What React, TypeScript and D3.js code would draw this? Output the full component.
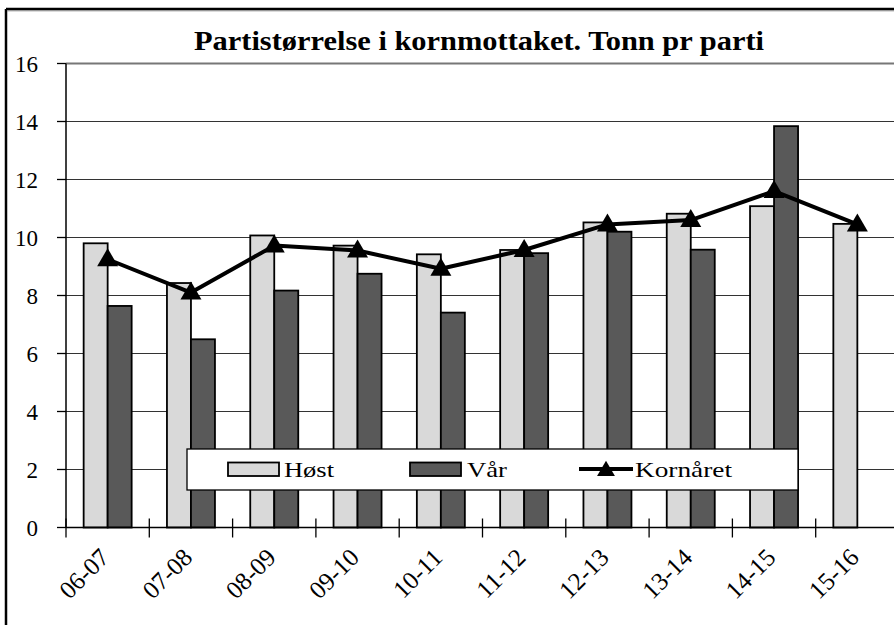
import React from "react";
import * as d3 from "d3";

const categories = ["06-07", "07-08", "08-09", "09-10", "10-11", "11-12", "12-13", "13-14", "14-15", "15-16"];
const host = [9.8, 8.43, 10.07, 9.72, 9.42, 9.57, 10.52, 10.82, 11.08, 10.47];
const vaar: (number | null)[] = [7.64, 6.49, 8.17, 8.75, 7.41, 9.46, 10.2, 9.58, 13.84, null];
const kornaret = [9.25, 8.1, 9.72, 9.55, 8.92, 9.57, 10.45, 10.6, 11.6, 10.45];
const yTicks = [0, 2, 4, 6, 8, 10, 12, 14, 16];
const title = "Partistørrelse i kornmottaket. Tonn pr parti";
const legendLabels = ["Høst", "Vår", "Kornåret"];

const W = 894;
const H = 625;
const LIGHT = "#d9d9d9";
const DARK = "#595959";
const SERIF = "Liberation Serif";

export default function App() {
  const x = d3.scaleBand<string>().domain(categories).range([66, 66 + 833]).paddingInner(0).paddingOuter(0);
  const y = d3.scaleLinear().domain([0, 16]).range([527.5, 63.5]);
  const bw = 24;
  const center = (c: string) => (x(c) as number) + x.bandwidth() / 2;
  const line = d3
    .line<number>()
    .x((_, i) => center(categories[i]))
    .y((d) => y(d));
  const tri = (cx: number, cy: number, s = 1) =>
    `M${cx},${cy - 11 * s} L${cx + 10.5 * s},${cy + 7 * s} L${cx - 10.5 * s},${cy + 7 * s} Z`;

  return (
    <svg width={W} height={H} style={{ position: "absolute", left: 0, top: 0 }}>
      <style>{`text { font-family: "Liberation Serif", "Times New Roman", serif; }`}</style>
      <rect x={0} y={0} width={W} height={H} fill="#fff" />
      {/* frame */}
      <line x1={6} y1={9} x2={W} y2={9} stroke="#000" strokeWidth={2.5} />
      <line x1={6} y1={9} x2={6} y2={H} stroke="#000" strokeWidth={2.5} />
      <line x1={7} y1={10.8} x2={W} y2={10.8} stroke="#888" strokeWidth={1} />
      {/* title */}
      <text x={479} y={50} textAnchor="middle" fontSize={27} fontWeight="bold" fontFamily={SERIF} textLength={570} lengthAdjust="spacingAndGlyphs">
        {title}
      </text>
      {/* gridlines */}
      {yTicks.filter((t) => t > 0).map((t) => (
        <line key={t} x1={66} x2={W} y1={y(t)} y2={y(t)} stroke={t === 16 ? "#777" : "#333"} strokeWidth={t === 16 ? 2 : 1.2} />
      ))}
      {/* y axis */}
      <line x1={66} x2={66} y1={y(16)} y2={y(0)} stroke="#000" strokeWidth={1.5} />
      {yTicks.map((t) => (
        <g key={t}>
          <line x1={57} x2={66} y1={y(t)} y2={y(t)} stroke="#000" strokeWidth={1.3} />
          <text x={38} y={y(t) + 8} textAnchor="end" fontSize={23} fontFamily={SERIF}>
            {t}
          </text>
        </g>
      ))}
      {/* bars */}
      {categories.map((c, i) => (
        <g key={c}>
          <rect x={center(c) - bw} y={y(host[i])} width={bw} height={y(0) - y(host[i])} fill={LIGHT} stroke="#000" strokeWidth={1.8} />
          {vaar[i] != null && (
            <rect x={center(c)} y={y(vaar[i] as number)} width={bw} height={y(0) - y(vaar[i] as number)} fill={DARK} stroke="#000" strokeWidth={1.8} />
          )}
        </g>
      ))}
      {/* x axis */}
      <line x1={66} x2={W} y1={y(0)} y2={y(0)} stroke="#000" strokeWidth={1.5} />
      {categories.map((c) => (
        <line key={c} x1={x(c) as number} x2={x(c) as number} y1={y(0) - 9} y2={y(0) + 10} stroke="#000" strokeWidth={1.3} />
      ))}
      {categories.map((c) => (
        <text key={c} transform={`translate(${center(c) + 3},${559}) rotate(-45)`} textAnchor="end" fontSize={25} fontFamily={SERIF}>
          {c}
        </text>
      ))}
      {/* line */}
      <path d={line(kornaret) as string} fill="none" stroke="#000" strokeWidth={4} strokeLinejoin="round" />
      {kornaret.map((v, i) => (
        <path key={i} d={tri(center(categories[i]), y(v))} fill="#000" />
      ))}
      {/* legend */}
      <rect x={187} y={449} width={611} height={41} fill="#fff" stroke="#000" strokeWidth={1.3} />
      <rect x={228} y={462.5} width={51} height={13.5} fill={LIGHT} stroke="#000" strokeWidth={1.8} />
      <text x={284} y={477} fontSize={22} fontFamily={SERIF} textLength={50} lengthAdjust="spacingAndGlyphs">{legendLabels[0]}</text>
      <rect x={410} y={462.5} width={51} height={13.5} fill={DARK} stroke="#000" strokeWidth={1.8} />
      <text x={467} y={477} fontSize={22} fontFamily={SERIF} textLength={40} lengthAdjust="spacingAndGlyphs">{legendLabels[1]}</text>
      <line x1={579} x2={633} y1={469} y2={469} stroke="#000" strokeWidth={4} />
      <path d={tri(606, 470, 0.85)} fill="#000" />
      <text x={635} y={477} fontSize={22} fontFamily={SERIF} textLength={97} lengthAdjust="spacingAndGlyphs">{legendLabels[2]}</text>
    </svg>
  );
}
